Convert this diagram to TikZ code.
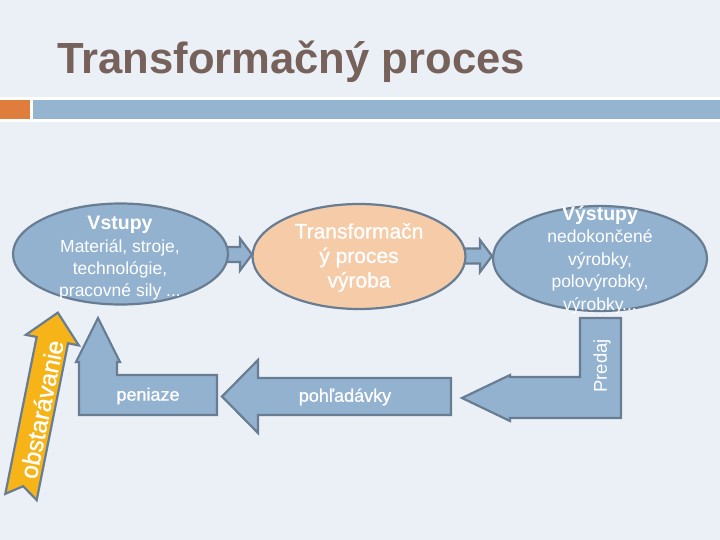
\documentclass[tikz,border=0pt]{standalone}
\usepackage{fontspec}
\setmainfont{Liberation Sans}
\newfontfamily\semibf[FakeBold=0.9]{Liberation Sans}
\usetikzlibrary{shapes.geometric,calc}
\definecolor{bgc}{HTML}{EBF0F7}
\definecolor{bluefill}{HTML}{93B2D0}
\definecolor{edgec}{HTML}{687D92}
\definecolor{peach}{HTML}{F5CBA8}
\definecolor{gold}{HTML}{F6B418}
\definecolor{bandor}{HTML}{E07C3C}
\definecolor{bandbl}{HTML}{95B4D0}
\definecolor{titlec}{HTML}{76625A}
\tikzset{
  ell/.style={ellipse, draw=edgec, line width=2.2pt, inner sep=0pt},
  blockshape/.style={draw=edgec, fill=bluefill, line width=2.2pt, line join=miter},
  goldshape/.style={draw=edgec, fill=gold, line width=2.2pt, line join=miter},
  wtxt/.style={text=white, inner sep=0pt, align=center},
}
\begin{document}
\begin{tikzpicture}[x=1pt,y=-1pt]
\useasboundingbox (0,0) rectangle (720,540);
\fill[bgc] (0,0) rectangle (720,540);
% header band
\fill[white] (0,97) rectangle (720,122.5);
\fill[bandor] (0,100) rectangle (30,119);
\fill[bandbl] (33,100) rectangle (720,119);
\node[anchor=base west, inner sep=0pt, text=titlec, font=\fontsize{43.6}{50}\selectfont\bfseries] (title) at (57,74) {Transformačný proces};

% small arrows between ellipses
\coordinate (a1) at (224,254.5);
\coordinate (a2) at (461,256);
\draw[blockshape] (a1) ++(0,-7.5) -- ++(16,0) -- ++(0,-8.5) -- ++(12,16) -- ++(-12,16) -- ++(0,-8.5) -- ++(-16,0) -- cycle;
\draw[blockshape] (a2) ++(0,-7.5) -- ++(19,0) -- ++(0,-8.5) -- ++(12,16) -- ++(-12,16) -- ++(0,-8.5) -- ++(-19,0) -- cycle;

% ellipses
\node[ell, fill=bluefill, minimum width=215pt, minimum height=101pt] (in) at (120.5,254) {};
\node[ell, fill=peach, minimum width=213pt, minimum height=105pt] (proc) at (359,256.5) {};
\node[ell, fill=bluefill, minimum width=214pt, minimum height=105pt] (out) at (600,258.5) {};

\node[wtxt, font=\fontsize{17.5}{22.4}\selectfont] (inT) at (120,258.5)
  {{\bfseries\fontsize{19.5}{22.4}\selectfont Vstupy}\\Materiál, stroje,\\technológie,\\pracovné sily ...};
\node[wtxt, font=\semibf\fontsize{21}{24.5}\selectfont] (procT) at (359,257.5)
  {Transformačn\\ý proces\\výroba};
\node[wtxt, font=\fontsize{17.5}{22.5}\selectfont] (outT) at (600,260)
  {{\bfseries\fontsize{19.5}{22.5}\selectfont Výstupy}\\nedokončené\\výrobky,\\polovýrobky,\\výrobky...};

% peniaze (bent up arrow)
\draw[blockshape] (217,375) -- (117,375) -- (117,362) -- (120,362) -- (98,318) -- (76,362) -- (79,362) -- (79,415) -- (217,415) -- cycle;
\node[wtxt, font=\semibf\fontsize{18}{21}\selectfont] (pen) at (148,396) {peniaze};

% pohladavky (left arrow)
\draw[blockshape] (451,378) -- (258,378) -- (258,360) -- (222,396.5) -- (258,433) -- (258,415) -- (451,415) -- cycle;
\node[wtxt, font=\semibf\fontsize{18}{21}\selectfont] (poh) at (345,397) {pohľadávky};

% predaj (bent left arrow)
\draw[blockshape] (621,318) -- (621,418) -- (510,418) -- (510,421) -- (462,398) -- (510,375) -- (510,377) -- (580,377) -- (580,318) -- cycle;
\node[wtxt, rotate=90, font=\fontsize{18.5}{21}\selectfont] (pred) at (602,366) {Predaj};

% obstaravanie (tilted up arrow)
\begin{scope}[shift={(21,497)}, rotate=78.7]
\draw[goldshape] (0,-16) -- (160,-16) -- (160,-27) -- (188,0) -- (160,27) -- (160,16) -- (0,16) -- (11,0) -- cycle;
\end{scope}
\node[wtxt, rotate=78.7, font=\semibf\fontsize{24.5}{28}\selectfont] (obst) at (41.5,409.3) {obstarávanie};
\end{tikzpicture}
\end{document}
